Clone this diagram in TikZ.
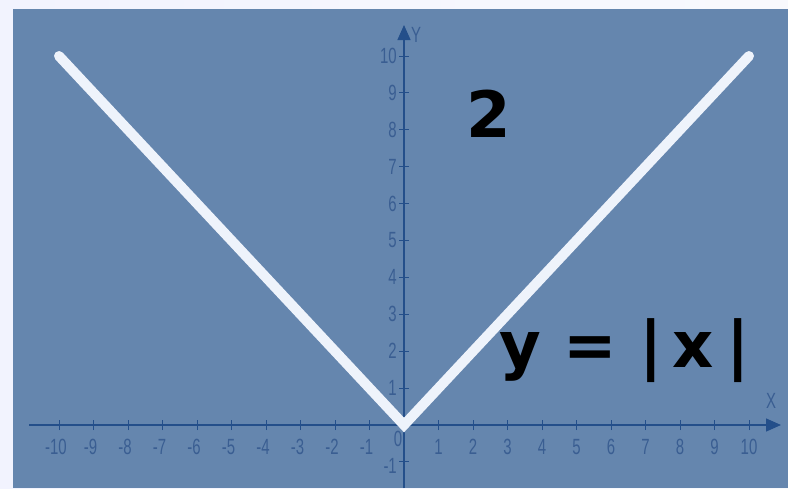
\documentclass[tikz,border=0pt]{standalone}
\usepackage{fontspec}
\setmainfont{DejaVu Sans}
\newfontfamily\tickfont[FakeStretch=0.68]{Liberation Sans}
\newfontfamily\bigfont{DejaVu Sans}
\usetikzlibrary{arrows.meta}
\definecolor{outerbg}{HTML}{EEF1FB}
\definecolor{panel}{HTML}{6586AE}
\definecolor{axisc}{HTML}{244F8A}
\definecolor{tickc}{HTML}{3A5E92}
\definecolor{vline}{HTML}{EEF3FB}
\tikzset{
  axisline/.style={draw=axisc, line width=1.3pt, -{Triangle[length=15pt,width=13pt]}},
  tickmark/.style={draw=axisc, line width=0.9pt},
  ticklabel/.style={text=tickc, font=\tickfont\fontsize{22}{22}\selectfont, inner sep=0pt},
  graphline/.style={draw=vline, line width=10pt, line cap=round, line join=miter},
  bigtext/.style={text=black, font=\bigfont\bfseries\fontsize{64}{64}\selectfont, inner sep=0pt}
}
\begin{document}
\begin{tikzpicture}[x=1pt,y=-1pt]
\useasboundingbox (0,0) rectangle (788,488);
\shade[left color=outerbg!80!blue!20, right color=outerbg!40!white] (0,0) rectangle (788,488);
\fill[panel] (13,9) rectangle (788,488);
% axes
\coordinate (xs) at (29,425);
\coordinate (xe) at (781,425);
\coordinate (ys) at (404,488);
\coordinate (ye) at (404,25);
\draw[axisline] (xs) -- (xe);
\draw[axisline] (ys) -- (ye);
% ticks and labels on x
\foreach \i in {-10,...,10}{
  \ifnum\i=0\else
  \coordinate (xt\i) at ({404+34.5*\i},425);
  \draw[tickmark] ([yshift=-5pt]xt\i) -- ([yshift=5pt]xt\i);
  \node[ticklabel] (xl\i) at ({404+34.5*\i-(\i<0 ? 3 : 0)},447) {\i};
  \fi
}
% ticks and labels on y
\foreach \j in {-1,1,2,...,10}{
  \coordinate (yt\j) at (404,{425-36.9*\j});
  \draw[tickmark] ([xshift=-5pt]yt\j) -- ([xshift=5pt]yt\j);
  \node[ticklabel, anchor=east] (yl\j) at ({397},{425-36.9*\j+(\j<0 ? 4 : 0)}) {\j};
}
\node[ticklabel] (zero) at (398,439) {0};
\node[ticklabel] (ylab) at (416,35) {Y};
\node[ticklabel] (xlab) at (771,401) {X};
% graph
\coordinate (pl) at (59,56);
\coordinate (po) at (404,425);
\coordinate (pr) at (749,56);
\draw[graphline] (pl) -- (po) -- (pr);
% texts
\node[bigtext, anchor=base] (two) at (489,137) {2};
\node[bigtext, anchor=base west] (eq) at (499,367) {y = |\kern10pt x\kern13pt|};
\end{tikzpicture}
\end{document}
